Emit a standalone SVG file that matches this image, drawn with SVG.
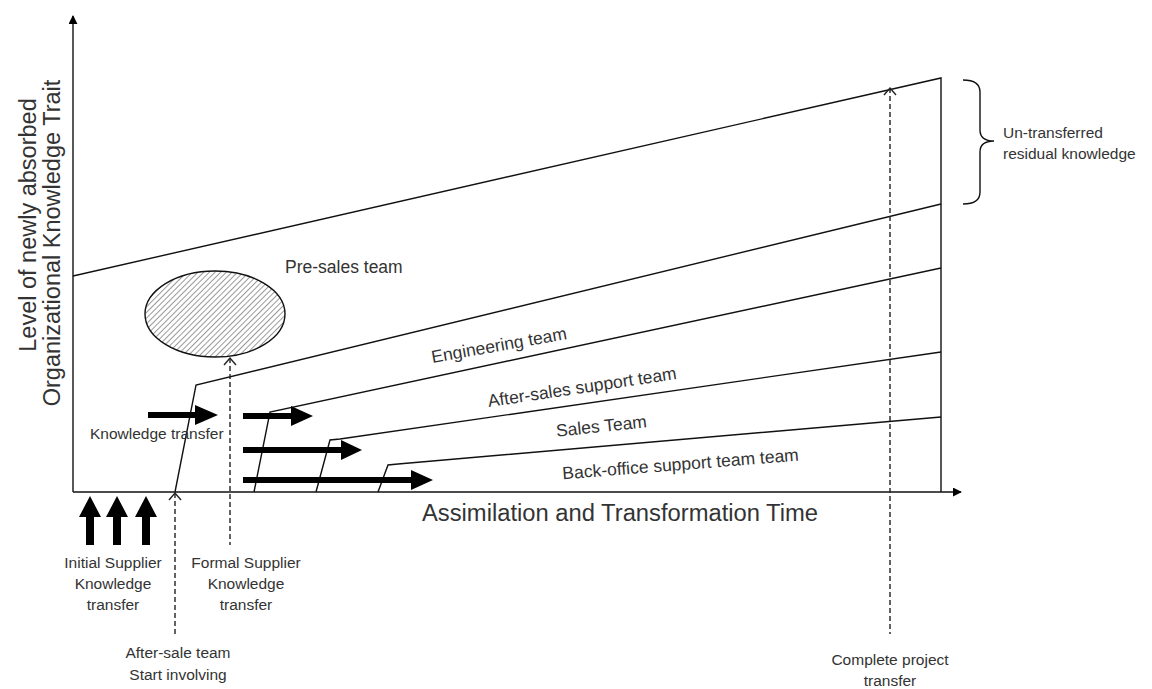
<svg xmlns="http://www.w3.org/2000/svg" width="1152" height="689" viewBox="0 0 1152 689">
  <defs>
    <style>
      .ln { fill: none; stroke: #111; stroke-width: 1.4; }
      .dash { fill: none; stroke: #222; stroke-width: 1.4; stroke-dasharray: 5 3; }
      .chev { fill: none; stroke: #222; stroke-width: 1.4; }
      .fat { fill: #000; }
      .t { font-family: "Liberation Sans", Arial, sans-serif; fill: #333; }
      .s16 { font-size: 15.5px; }
      .s17 { font-size: 17.5px; }
      .mid { text-anchor: middle; }
    </style>
    <pattern id="hatch" width="4" height="4" patternUnits="userSpaceOnUse" patternTransform="rotate(45)">
      <line x1="0" y1="0" x2="0" y2="4" stroke="#333" stroke-width="1"/>
    </pattern>
    <marker id="solidHead" viewBox="0 0 10 10" refX="9" refY="5" markerWidth="9" markerHeight="9" markerUnits="userSpaceOnUse" orient="auto">
      <path d="M0,0 L10,5 L0,10 Z" fill="#000"/>
    </marker>
  </defs>

  <!-- axes -->
  <g id="axes">
    <line class="ln" x1="73" y1="492" x2="73" y2="16" marker-end="url(#solidHead)"/>
    <line class="ln" x1="73" y1="492" x2="961" y2="492" marker-end="url(#solidHead)"/>
    <text class="t mid" font-size="23.5" transform="translate(36 225) rotate(-90)">Level of newly absorbed</text>
    <text class="t mid" font-size="23.5" transform="translate(60 243) rotate(-90)">Organizational Knowledge Trait</text>
    <text class="t" font-size="23.5" x="422" y="521" textLength="396" lengthAdjust="spacingAndGlyphs">Assimilation and Transformation Time</text>
  </g>

  <!-- team curves -->
  <g id="connectors">
    <polyline class="ln" points="73,276 941,78 941,492"/>
    <polyline class="ln" points="175,492 196,385 941,204"/>
    <polyline class="ln" points="254,492 270,412 941,268"/>
    <polyline class="ln" points="316,492 330,440 340,439 941,352"/>
    <polyline class="ln" points="378,492 388,465 398,464 941,417"/>

    <!-- dashed event markers -->
    <line class="dash" x1="175" y1="493" x2="175" y2="637"/>
    <polyline class="chev" points="169,500 175,493 181,500"/>
    <line class="dash" x1="230" y1="358" x2="230" y2="545"/>
    <polyline class="chev" points="224,365 230,358 236,365"/>
    <line class="dash" x1="890" y1="88" x2="890" y2="634"/>
    <polyline class="chev" points="884,95 890,88 896,95"/>

    <!-- bracket -->
    <path class="ln" d="M963,80 Q980,80 980,92 L980,130 Q980,141 994,141 Q980,141 980,152 L980,192 Q980,204 963,204"/>
  </g>

  <!-- thick knowledge transfer arrows -->
  <g id="transfer-arrows">
    <path class="fat" d="M148,412 L195,412 L195,405 L218,415 L195,425 L195,418 L148,418 Z"/>
    <path class="fat" d="M243,413 L291,413 L291,406 L313,416 L291,426 L291,419 L243,419 Z"/>
    <path class="fat" d="M243,447 L341,447 L341,440 L362,450 L341,460 L341,453 L243,453 Z"/>
    <path class="fat" d="M243,477 L411,477 L411,470 L433,480 L411,490 L411,483 L243,483 Z"/>
  </g>

  <!-- initial supplier upward arrows -->
  <g id="initial-arrows">
    <path class="fat" d="M86,545 L86,517 L79,517 L90,496 L101,517 L94,517 L94,545 Z"/>
    <path class="fat" d="M113,545 L113,517 L106,517 L117,496 L128,517 L121,517 L121,545 Z"/>
    <path class="fat" d="M142,545 L142,517 L135,517 L146,496 L157,517 L150,517 L150,545 Z"/>
  </g>

  <!-- pre-sales team -->
  <g id="presales">
    <ellipse cx="215" cy="314" rx="70" ry="43" fill="url(#hatch)" stroke="#111" stroke-width="1.4"/>
    <text class="t s17" x="285" y="273">Pre-sales team</text>
  </g>

  <g id="team-labels">
    <text class="t s17 mid" transform="translate(500 351) rotate(-10)">Engineering team</text>
    <text class="t s17 mid" transform="translate(583 393) rotate(-8.5)">After-sales support team</text>
    <text class="t s17 mid" transform="translate(602 432) rotate(-6)">Sales Team</text>
    <text class="t s17 mid" transform="translate(681 470) rotate(-4.5)">Back-office support team team</text>
    <text class="t s16" x="90" y="439">Knowledge transfer</text>
  </g>

  <g id="event-labels">
    <text class="t s16 mid" x="113" y="568">Initial Supplier</text>
    <text class="t s16 mid" x="113" y="589">Knowledge</text>
    <text class="t s16 mid" x="113" y="610">transfer</text>

    <text class="t s16 mid" x="246" y="568">Formal Supplier</text>
    <text class="t s16 mid" x="246" y="589">Knowledge</text>
    <text class="t s16 mid" x="246" y="610">transfer</text>

    <text class="t s16 mid" x="178" y="658">After-sale team</text>
    <text class="t s16 mid" x="178" y="680">Start involving</text>

    <text class="t s16 mid" x="890" y="665">Complete project</text>
    <text class="t s16 mid" x="890" y="686">transfer</text>

    <text class="t s16" x="1003" y="138">Un-transferred</text>
    <text class="t s16" x="1003" y="159">residual knowledge</text>
  </g>
</svg>
